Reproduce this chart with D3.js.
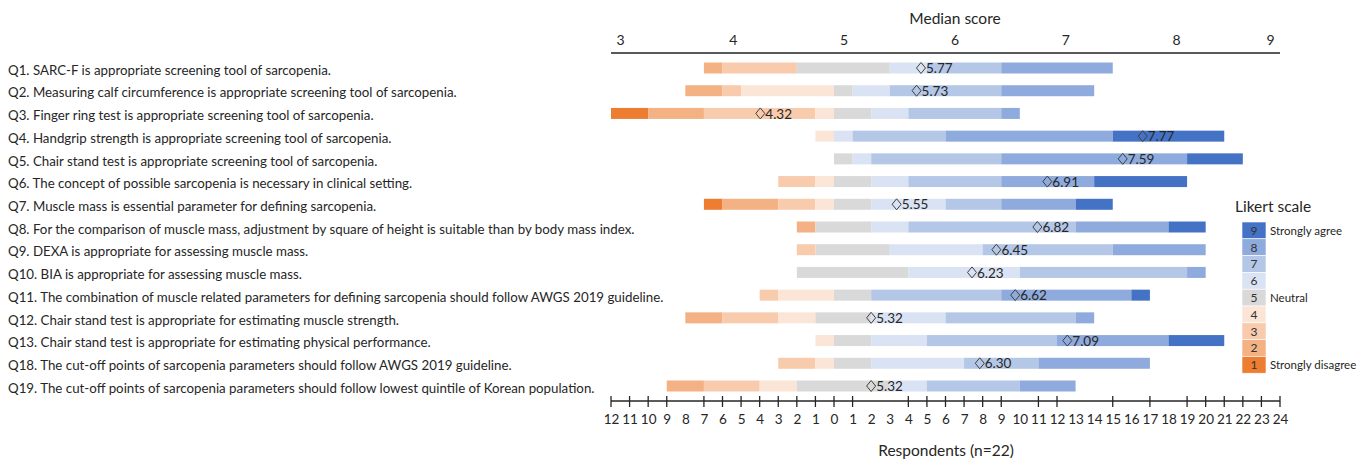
<!DOCTYPE html>
<html>
<head>
<meta charset="utf-8">
<script src="https://cdn.jsdelivr.net/npm/d3@7"></script>
<style>
  body { margin: 0; background: #fff; }
  svg { display: block; }
  text { font-family: Lato, "Noto Sans", sans-serif; fill: #262626; }
</style>
</head>
<body>
<svg id="chart" width="1362" height="461"></svg>
<script>
const questions = [
    'Q1. SARC-F is appropriate screening tool of sarcopenia.',
    'Q2. Measuring calf circumference is appropriate screening tool of sarcopenia.',
    'Q3. Finger ring test is appropriate screening tool of sarcopenia.',
    'Q4. Handgrip strength is appropriate screening tool of sarcopenia.',
    'Q5. Chair stand test is appropriate screening tool of sarcopenia.',
    'Q6. The concept of possible sarcopenia is necessary in clinical setting.',
    'Q7. Muscle mass is essential parameter for defining sarcopenia.',
    'Q8. For the comparison of muscle mass, adjustment by square of height is suitable than by body mass index.',
    'Q9. DEXA is appropriate for assessing muscle mass.',
    'Q10. BIA is appropriate for assessing muscle mass.',
    'Q11. The combination of muscle related parameters for defining sarcopenia should follow AWGS 2019 guideline.',
    'Q12. Chair stand test is appropriate for estimating muscle strength.',
    'Q13. Chair stand test is appropriate for estimating physical performance.',
    'Q18. The cut-off points of sarcopenia parameters should follow AWGS 2019 guideline.',
    'Q19. The cut-off points of sarcopenia parameters should follow lowest quintile of Korean population.'
];

// number of respondents per Likert level 1..9
const counts = [
    [0, 1, 4, 0, 5, 2, 4, 6, 0],
    [0, 2, 1, 5, 1, 2, 6, 5, 0],
    [2, 3, 6, 1, 2, 2, 5, 1, 0],
    [0, 0, 0, 1, 0, 1, 5, 9, 6],
    [0, 0, 0, 0, 1, 1, 7, 10, 3],
    [0, 0, 2, 1, 2, 2, 5, 5, 5],
    [1, 3, 2, 1, 2, 4, 3, 4, 2],
    [0, 1, 0, 0, 3, 2, 9, 5, 2],
    [0, 0, 1, 0, 4, 5, 7, 5, 0],
    [0, 0, 0, 0, 6, 6, 9, 1, 0],
    [0, 0, 1, 3, 2, 0, 7, 7, 1],
    [0, 2, 3, 2, 3, 4, 7, 1, 0],
    [0, 0, 0, 1, 2, 3, 7, 6, 3],
    [0, 0, 2, 1, 2, 5, 4, 6, 0],
    [0, 2, 3, 2, 5, 2, 5, 3, 0]
];

const medianScores = [5.77, 5.73, 4.32, 7.77, 7.59, 6.91, 5.55, 6.82, 6.45, 6.23, 6.62, 5.32, 7.09, 6.30, 5.32];

const likertLevels = [1, 2, 3, 4, 5, 6, 7, 8, 9];
const likertNames = {9: 'Strongly agree', 5: 'Neutral', 1: 'Strongly disagree'};
const likertColors = ['#ED7D31', '#F4B183', '#F8CBAD', '#FBE5D6', '#D9D9D9', '#DAE3F3', '#B4C7E7', '#8FAADC', '#4472C4'];

const scoreTicks = [3, 4, 5, 6, 7, 8, 9];
const respondentTicks = d3.range(-12, 25);
const respondentTickMarks = [-12, -11, -10, -9, -7, -6, -5, -4, -3, -2, -1, 0, 1, 4, 5, 6, 7, 8, 9, 11, 12, 15, 17, 19, 20, 21, 22, 23, 24];

const svg = d3.select('#chart');

const x = d3.scaleLinear().domain([-12, 24]).range([611, 1280]);
const xScore = d3.scaleLinear().domain([3, 9]).range([614, 1279]);
const y = d3.scalePoint().domain(d3.range(questions.length)).range([68, 386]);
const color = d3.scaleOrdinal().domain(likertLevels).range(likertColors);

// where each bar starts on the respondents axis
const barStart = row => {
    const disagree = d3.sum(row.slice(0, 4));
    return -(disagree + Math.max(0, Math.floor((row[4] - 1) / 2)));
};

const segments = counts.flatMap((row, i) => {
    let s = barStart(row);
    return row.map((n, k) => {
        const seg = {q: i, level: k + 1, x0: s, x1: s + n};
        s += n;
        return seg;
    }).filter(d => d.x1 > d.x0);
});

const barH = 11;

svg.append('g')
    .selectAll('rect')
    .data(segments)
    .enter().append('rect')
    .attr('x', d => x(d.x0))
    .attr('width', d => x(d.x1) - x(d.x0))
    .attr('y', d => y(d.q) - barH / 2)
    .attr('height', barH)
    .style('fill', d => color(d.level));

// question labels
svg.append('g')
    .selectAll('text')
    .data(questions)
    .enter().append('text')
    .attr('x', 8)
    .attr('y', (d, i) => y(i) + 2)
    .attr('dy', '0.35em')
    .style('font-size', '13.3px')
    .text(d => d);

// median score markers
const marker = svg.append('g')
    .selectAll('g')
    .data(medianScores)
    .enter().append('g')
    .attr('transform', (d, i) => `translate(${xScore(d)}, ${y(i)})`);

marker.append('path')
    .attr('d', 'M0,-5.5L4.5,0L0,5.5L-4.5,0Z')
    .style('fill', 'none')
    .style('stroke', '#404040')
    .style('stroke-width', 1);

marker.append('text')
    .attr('x', 5)
    .attr('dy', '0.38em')
    .style('font-size', '13.5px')
    .text(d => d.toFixed(2));

// top axis: median score
const topAxis = svg.append('g')
    .attr('transform', 'translate(0, 53)')
    .call(d3.axisTop(xScore).tickValues(scoreTicks).tickFormat(d3.format('d')).tickSize(0).tickPadding(8));
topAxis.select('.domain').remove();
topAxis.selectAll('text')
    .style('font-size', '14px')
    .style('font-family', 'Lato, sans-serif')
    .attr('fill', '#262626')
    .attr('dx', d => d === 3 ? 6 : d === 9 ? -9 : 8);

svg.append('line')
    .attr('x1', x.range()[0]).attr('x2', x.range()[1])
    .attr('y1', 53).attr('y2', 53)
    .style('stroke', '#595959')
    .style('stroke-width', 2);

svg.append('text')
    .attr('x', 955)
    .attr('y', 19)
    .attr('dy', '0.35em')
    .attr('text-anchor', 'middle')
    .style('font-size', '15.5px')
    .text('Median score');

// bottom axis: respondents
const bottomY = 401;
const bottomAxis = svg.append('g')
    .attr('transform', `translate(0, ${bottomY})`)
    .call(d3.axisBottom(x).tickValues(respondentTicks).tickFormat(d => Math.abs(d)).tickSize(0).tickPadding(13));
bottomAxis.select('.domain').remove();
bottomAxis.selectAll('text')
    .style('font-size', '13.5px')
    .style('font-family', 'Lato, sans-serif')
    .attr('fill', '#262626');

svg.append('line')
    .attr('x1', x.range()[0]).attr('x2', x.range()[1])
    .attr('y1', bottomY).attr('y2', bottomY)
    .style('stroke', '#262626')
    .style('stroke-width', 1.5);

svg.append('g')
    .selectAll('line')
    .data(respondentTickMarks)
    .enter().append('line')
    .attr('x1', d => x(d)).attr('x2', d => x(d))
    .attr('y1', bottomY - 5).attr('y2', bottomY + 6)
    .style('stroke', '#262626')
    .style('stroke-width', 1.3);

svg.append('text')
    .attr('x', 946)
    .attr('y', 451)
    .attr('dy', '0.35em')
    .attr('text-anchor', 'middle')
    .style('font-size', '15.5px')
    .text('Respondents (n=22)');

// legend
const legend = svg.append('g').attr('transform', 'translate(1242, 222)');
const swH = 16.8;

legend.append('text')
    .attr('x', -7)
    .attr('y', -10)
    .style('font-size', '15.5px')
    .text('Likert scale');

const item = legend.selectAll('g.item')
    .data(likertLevels.slice().reverse())
    .enter().append('g')
    .attr('class', 'item')
    .attr('transform', (d, i) => `translate(0, ${i * swH})`);

item.append('rect')
    .attr('width', 24)
    .attr('height', swH)
    .style('fill', d => color(d))
    .style('stroke', '#fff')
    .style('stroke-width', 0.6);

item.append('text')
    .attr('x', 12)
    .attr('y', swH / 2)
    .attr('dy', '0.36em')
    .attr('text-anchor', 'middle')
    .style('font-size', '12px')
    .style('fill', '#333')
    .text(d => d);

item.append('text')
    .attr('x', 28)
    .attr('y', swH / 2)
    .attr('dy', '0.36em')
    .style('font-size', '11.5px')
    .text(d => likertNames[d] || '');
</script>
</body>
</html>
